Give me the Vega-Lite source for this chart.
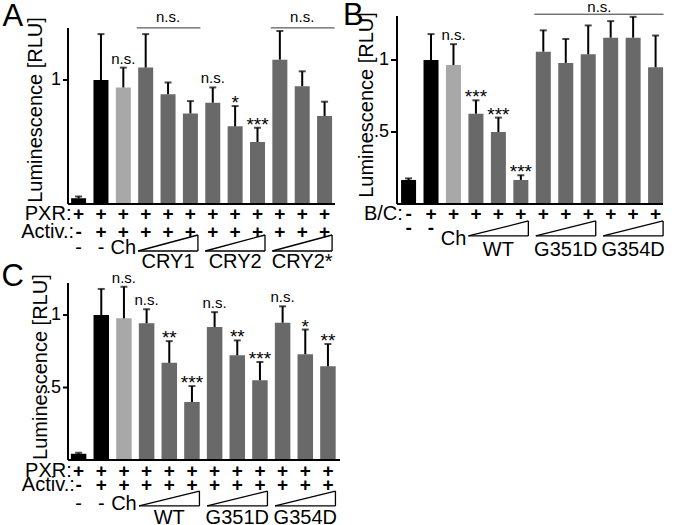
{
"$schema": "https://vega.github.io/schema/vega-lite/v6.json",
"padding": {"left": 1, "top": 0, "right": 0, "bottom": 0},
"config": {
  "view": {"stroke": null},
  "text": {"font": "Liberation Sans", "color": "#000"}
},
"datasets": {
  "a": [
    {"i":1,"v":0.046,"e":0.06,"c":"neg","s":"","r1":"+","r2":"-","r3":"-"},
    {"i":2,"v":1.0,"e":1.37,"c":"pos","s":"","r1":"+","r2":"+","r3":"-"},
    {"i":3,"v":0.94,"e":1.10,"c":"ch","s":"n.s.","r1":"+","r2":"+","r3":"Ch"},
    {"i":4,"v":1.10,"e":1.37,"c":"test","s":"","r1":"+","r2":"+","r3":""},
    {"i":5,"v":0.885,"e":0.98,"c":"test","s":"","r1":"+","r2":"+","r3":""},
    {"i":6,"v":0.73,"e":0.83,"c":"test","s":"","r1":"+","r2":"+","r3":""},
    {"i":7,"v":0.817,"e":0.94,"c":"test","s":"n.s.","r1":"+","r2":"+","r3":""},
    {"i":8,"v":0.626,"e":0.79,"c":"test","s":"*","r1":"+","r2":"+","r3":""},
    {"i":9,"v":0.50,"e":0.615,"c":"test","s":"***","r1":"+","r2":"+","r3":""},
    {"i":10,"v":1.164,"e":1.395,"c":"test","s":"","r1":"+","r2":"+","r3":""},
    {"i":11,"v":0.95,"e":1.07,"c":"test","s":"","r1":"+","r2":"+","r3":""},
    {"i":12,"v":0.71,"e":0.825,"c":"test","s":"","r1":"+","r2":"+","r3":""}
  ],
  "b": [
    {"i":1,"v":0.167,"e":0.178,"c":"neg","s":"","r1":"-","r2":"-","r3":""},
    {"i":2,"v":1.0,"e":1.18,"c":"pos","s":"","r1":"+","r2":"-","r3":""},
    {"i":3,"v":0.965,"e":1.11,"c":"ch","s":"n.s.","r1":"+","r2":"","r3":"Ch"},
    {"i":4,"v":0.627,"e":0.72,"c":"test","s":"***","r1":"+","r2":"","r3":""},
    {"i":5,"v":0.50,"e":0.60,"c":"test","s":"***","r1":"+","r2":"","r3":""},
    {"i":6,"v":0.167,"e":0.20,"c":"test","s":"***","r1":"+","r2":"","r3":""},
    {"i":7,"v":1.058,"e":1.206,"c":"test","s":"","r1":"+","r2":"","r3":""},
    {"i":8,"v":0.98,"e":1.146,"c":"test","s":"","r1":"+","r2":"","r3":""},
    {"i":9,"v":1.04,"e":1.24,"c":"test","s":"","r1":"+","r2":"","r3":""},
    {"i":10,"v":1.155,"e":1.27,"c":"test","s":"","r1":"+","r2":"","r3":""},
    {"i":11,"v":1.155,"e":1.30,"c":"test","s":"","r1":"+","r2":"","r3":""},
    {"i":12,"v":0.95,"e":1.17,"c":"test","s":"","r1":"+","r2":"","r3":""}
  ],
  "c": [
    {"i":1,"v":0.043,"e":0.05,"c":"neg","s":"","r1":"+","r2":"-","r3":"-"},
    {"i":2,"v":1.0,"e":1.18,"c":"pos","s":"","r1":"+","r2":"+","r3":"-"},
    {"i":3,"v":0.977,"e":1.195,"c":"ch","s":"n.s.","r1":"+","r2":"+","r3":"Ch"},
    {"i":4,"v":0.943,"e":1.04,"c":"test","s":"n.s.","r1":"+","r2":"+","r3":""},
    {"i":5,"v":0.67,"e":0.82,"c":"test","s":"**","r1":"+","r2":"+","r3":""},
    {"i":6,"v":0.40,"e":0.51,"c":"test","s":"***","r1":"+","r2":"+","r3":""},
    {"i":7,"v":0.917,"e":1.02,"c":"test","s":"n.s.","r1":"+","r2":"+","r3":""},
    {"i":8,"v":0.722,"e":0.825,"c":"test","s":"**","r1":"+","r2":"+","r3":""},
    {"i":9,"v":0.55,"e":0.676,"c":"test","s":"***","r1":"+","r2":"+","r3":""},
    {"i":10,"v":0.947,"e":1.06,"c":"test","s":"n.s.","r1":"+","r2":"+","r3":""},
    {"i":11,"v":0.73,"e":0.90,"c":"test","s":"*","r1":"+","r2":"+","r3":""},
    {"i":12,"v":0.646,"e":0.80,"c":"test","s":"**","r1":"+","r2":"+","r3":""}
  ],
  "ga": [{"g":"CRY1","from":4,"to":6,"mid":5},{"g":"CRY2","from":7,"to":9,"mid":8},{"g":"CRY2*","from":10,"to":12,"mid":11}],
  "gb": [{"g":"WT","from":4,"to":6,"mid":5},{"g":"G351D","from":7,"to":9,"mid":8},{"g":"G354D","from":10,"to":12,"mid":11}],
  "gc": [{"g":"WT","from":4,"to":6,"mid":5},{"g":"G351D","from":7,"to":9,"mid":8},{"g":"G354D","from":10,"to":12,"mid":11}],
  "bra": [{"from":4,"to":6,"mid":5,"lab":"n.s."},{"from":10,"to":12,"mid":11,"lab":"n.s."}],
  "brb": [{"from":7,"to":12,"mid":9.5,"lab":"n.s."}],
  "ta": [{"t":1,"lab":"1"}],
  "tb": [{"t":0.5,"lab":".5"},{"t":1,"lab":"1"}]
},
"concat": [
  {"width": 277, "height": 188,
   "layer": [
    {"data":{"name":"a"},"mark":{"type":"bar","width":15},
     "encoding":{
      "x":{"field":"i","type":"quantitative","scale":{"domain":[0.526,12.466],"nice":false,"zero":false},"axis":null},
      "y":{"field":"v","type":"quantitative","scale":{"domain":[0,1.516],"nice":false},"axis":null},
      "color":{"field":"c","type":"nominal","scale":{"domain":["neg","pos","ch","test"],"range":["#000000","#000000","#a8a8a8","#696969"]},"legend":null}}},
    {"data":{"name":"a"},"mark":{"type":"rule","strokeWidth":2,"color":"#000"},
     "encoding":{"x":{"field":"i","type":"quantitative","axis":null},"y":{"field":"v","type":"quantitative","axis":null},"y2":{"field":"e"}}},
    {"data":{"name":"a"},"mark":{"type":"tick","orient":"horizontal","size":7,"thickness":2,"color":"#000"},
     "encoding":{"x":{"field":"i","type":"quantitative","axis":null},"y":{"field":"e","type":"quantitative","axis":null}}},
    {"data":{"name":"a"},"transform":[{"filter":"datum.s == 'n.s.'"}],"mark":{"type":"text","fontSize":15,"baseline":"alphabetic","dy":-4},
     "encoding":{"x":{"field":"i","type":"quantitative","axis":null},"y":{"field":"e","type":"quantitative","axis":null},"text":{"field":"s"}}},
    {"data":{"name":"a"},"transform":[{"filter":"datum.s && datum.s != 'n.s.'"}],"mark":{"type":"text","fontSize":19,"baseline":"alphabetic","dy":3},
     "encoding":{"x":{"field":"i","type":"quantitative","axis":null},"y":{"field":"e","type":"quantitative","axis":null},"text":{"field":"s"}}},
    {"data":{"values":[{}]},"mark":{"type":"rule","strokeWidth":2,"color":"#000"},
     "encoding":{"x":{"datum":0.526,"axis":null},"y":{"datum":0,"axis":null},"y2":{"datum":1.42}}},
    {"data":{"values":[{}]},"mark":{"type":"rule","strokeWidth":2,"color":"#000"},
     "encoding":{"x":{"datum":0.526,"axis":null},"x2":{"datum":12.466},"y":{"datum":0,"axis":null}}},
    {"data":{"name":"ta"},"mark":{"type":"rule","strokeWidth":2,"color":"#000","xOffset":-5},
     "encoding":{"x":{"datum":0.526,"axis":null},"x2":{"datum":0.526},"y":{"field":"t","type":"quantitative","axis":null}}},
    {"data":{"name":"ta"},"mark":{"type":"text","fontSize":18,"align":"right","baseline":"middle","dx":-7},
     "encoding":{"x":{"datum":0.526,"axis":null},"y":{"field":"t","type":"quantitative","axis":null},"text":{"field":"lab"}}},
    {"data":{"values":[{}]},"mark":{"type":"text","fontSize":20,"angle":270,"align":"center","baseline":"alphabetic"},
     "encoding":{"x":{"datum":-0.62,"axis":null},"y":{"datum":0.758,"axis":null},"text":{"value":"Luminescence [RLU]"}}},
    {"data":{"name":"a"},"mark":{"type":"text","fontSize":19,"fontWeight":"bold","baseline":"alphabetic"},
     "encoding":{"x":{"field":"i","type":"quantitative","axis":null},"y":{"datum":-0.129,"axis":null},"text":{"field":"r1"}}},
    {"data":{"name":"a"},"mark":{"type":"text","fontSize":19,"fontWeight":"bold","baseline":"alphabetic"},
     "encoding":{"x":{"field":"i","type":"quantitative","axis":null},"y":{"datum":-0.274,"axis":null},"text":{"field":"r2"}}},
    {"data":{"name":"a"},"mark":{"type":"text","fontSize":20,"baseline":"alphabetic"},
     "encoding":{"x":{"field":"i","type":"quantitative","axis":null},"y":{"datum":-0.403,"axis":null},"text":{"field":"r3"}}},
    {"data":{"values":[{}]},"mark":{"type":"text","fontSize":20,"baseline":"alphabetic","align":"right"},
     "encoding":{"x":{"datum":0.68,"axis":null},"y":{"datum":-0.129,"axis":null},"text":{"value":"PXR:"}}},
    {"data":{"values":[{}]},"mark":{"type":"text","fontSize":20,"baseline":"alphabetic","align":"right"},
     "encoding":{"x":{"datum":0.80,"axis":null},"y":{"datum":-0.274,"axis":null},"text":{"value":"Activ.:"}}},
    {"data":{"name":"ga"},"mark":{"type":"rule","strokeWidth":1.3,"color":"#000","xOffset":-7.5,"x2Offset":7.5},
     "encoding":{"x":{"field":"from","type":"quantitative","axis":null},"x2":{"field":"to"},"y":{"datum":-0.379,"axis":null}}},
    {"data":{"name":"ga"},"mark":{"type":"rule","strokeWidth":1.3,"color":"#000","xOffset":7.5},
     "encoding":{"x":{"field":"to","type":"quantitative","axis":null},"y":{"datum":-0.379,"axis":null},"y2":{"datum":-0.25}}},
    {"data":{"name":"ga"},"mark":{"type":"rule","strokeWidth":1.3,"color":"#000","xOffset":-7.5,"x2Offset":7.5},
     "encoding":{"x":{"field":"from","type":"quantitative","axis":null},"x2":{"field":"to"},"y":{"datum":-0.379,"axis":null},"y2":{"datum":-0.25}}},
    {"data":{"name":"ga"},"mark":{"type":"text","fontSize":20,"baseline":"alphabetic"},
     "encoding":{"x":{"field":"mid","type":"quantitative","axis":null},"y":{"datum":-0.516,"axis":null},"text":{"field":"g"}}},
    {"data":{"name":"bra"},"mark":{"type":"rule","strokeWidth":1,"color":"#333","xOffset":-9,"x2Offset":10},
     "encoding":{"x":{"field":"from","type":"quantitative","axis":null},"x2":{"field":"to"},"y":{"datum":1.42,"axis":null}}},
    {"data":{"name":"bra"},"mark":{"type":"text","fontSize":15,"baseline":"alphabetic"},
     "encoding":{"x":{"field":"mid","type":"quantitative","axis":null},"y":{"datum":1.464,"axis":null},"text":{"field":"lab"}}},
    {"data":{"values":[{}]},"mark":{"type":"text","fontSize":31,"baseline":"alphabetic","align":"left"},
     "encoding":{"x":{"datum":-2.405,"axis":null},"y":{"datum":1.435,"axis":null},"text":{"value":"A"}}}
   ]},
  {"width": 276, "height": 188,
   "layer": [
    {"data":{"name":"b"},"mark":{"type":"bar","width":15},
     "encoding":{
      "x":{"field":"i","type":"quantitative","scale":{"domain":[0.485,12.33],"nice":false,"zero":false},"axis":null},
      "y":{"field":"v","type":"quantitative","scale":{"domain":[0,1.3056],"nice":false},"axis":null},
      "color":{"field":"c","type":"nominal","scale":{"domain":["neg","pos","ch","test"],"range":["#000000","#000000","#a8a8a8","#696969"]},"legend":null}}},
    {"data":{"name":"b"},"mark":{"type":"rule","strokeWidth":2,"color":"#000"},
     "encoding":{"x":{"field":"i","type":"quantitative","axis":null},"y":{"field":"v","type":"quantitative","axis":null},"y2":{"field":"e"}}},
    {"data":{"name":"b"},"mark":{"type":"tick","orient":"horizontal","size":7,"thickness":2,"color":"#000"},
     "encoding":{"x":{"field":"i","type":"quantitative","axis":null},"y":{"field":"e","type":"quantitative","axis":null}}},
    {"data":{"name":"b"},"transform":[{"filter":"datum.s == 'n.s.'"}],"mark":{"type":"text","fontSize":15,"baseline":"alphabetic","dy":-4},
     "encoding":{"x":{"field":"i","type":"quantitative","axis":null},"y":{"field":"e","type":"quantitative","axis":null},"text":{"field":"s"}}},
    {"data":{"name":"b"},"transform":[{"filter":"datum.s && datum.s != 'n.s.'"}],"mark":{"type":"text","fontSize":19,"baseline":"alphabetic","dy":3},
     "encoding":{"x":{"field":"i","type":"quantitative","axis":null},"y":{"field":"e","type":"quantitative","axis":null},"text":{"field":"s"}}},
    {"data":{"values":[{}]},"mark":{"type":"rule","strokeWidth":2,"color":"#000"},
     "encoding":{"x":{"datum":0.485,"axis":null},"y":{"datum":0,"axis":null},"y2":{"datum":1.3056}}},
    {"data":{"values":[{}]},"mark":{"type":"rule","strokeWidth":2,"color":"#000"},
     "encoding":{"x":{"datum":0.485,"axis":null},"x2":{"datum":12.33},"y":{"datum":0,"axis":null}}},
    {"data":{"name":"tb"},"mark":{"type":"rule","strokeWidth":2,"color":"#000","xOffset":-6},
     "encoding":{"x":{"datum":0.485,"axis":null},"x2":{"datum":0.485},"y":{"field":"t","type":"quantitative","axis":null}}},
    {"data":{"name":"tb"},"mark":{"type":"text","fontSize":18,"align":"right","baseline":"middle","dx":-8},
     "encoding":{"x":{"datum":0.485,"axis":null},"y":{"field":"t","type":"quantitative","axis":null},"text":{"field":"lab"}}},
    {"data":{"values":[{}]},"mark":{"type":"text","fontSize":20,"angle":270,"align":"center","baseline":"alphabetic"},
     "encoding":{"x":{"datum":-0.588,"axis":null},"y":{"datum":0.6875,"axis":null},"text":{"value":"Luminescence [RLU]"}}},
    {"data":{"name":"b"},"mark":{"type":"text","fontSize":19,"fontWeight":"bold","baseline":"alphabetic"},
     "encoding":{"x":{"field":"i","type":"quantitative","axis":null},"y":{"datum":-0.110,"axis":null},"text":{"field":"r1"}}},
    {"data":{"name":"b"},"mark":{"type":"text","fontSize":19,"fontWeight":"bold","baseline":"alphabetic"},
     "encoding":{"x":{"field":"i","type":"quantitative","axis":null},"y":{"datum":-0.21,"axis":null},"text":{"field":"r2"}}},
    {"data":{"name":"b"},"mark":{"type":"text","fontSize":20,"baseline":"alphabetic"},
     "encoding":{"x":{"field":"i","type":"quantitative","axis":null},"y":{"datum":-0.284,"axis":null},"text":{"field":"r3"}}},
    {"data":{"values":[{}]},"mark":{"type":"text","fontSize":20,"baseline":"alphabetic","align":"right"},
     "encoding":{"x":{"datum":0.743,"axis":null},"y":{"datum":-0.110,"axis":null},"text":{"value":"B/C:"}}},
    {"data":{"name":"gb"},"mark":{"type":"rule","strokeWidth":1.3,"color":"#000","xOffset":-7.5,"x2Offset":7.5},
     "encoding":{"x":{"field":"from","type":"quantitative","axis":null},"x2":{"field":"to"},"y":{"datum":-0.222,"axis":null}}},
    {"data":{"name":"gb"},"mark":{"type":"rule","strokeWidth":1.3,"color":"#000","xOffset":7.5},
     "encoding":{"x":{"field":"to","type":"quantitative","axis":null},"y":{"datum":-0.222,"axis":null},"y2":{"datum":-0.118}}},
    {"data":{"name":"gb"},"mark":{"type":"rule","strokeWidth":1.3,"color":"#000","xOffset":-7.5,"x2Offset":7.5},
     "encoding":{"x":{"field":"from","type":"quantitative","axis":null},"x2":{"field":"to"},"y":{"datum":-0.222,"axis":null},"y2":{"datum":-0.118}}},
    {"data":{"name":"gb"},"mark":{"type":"text","fontSize":20,"baseline":"alphabetic"},
     "encoding":{"x":{"field":"mid","type":"quantitative","axis":null},"y":{"datum":-0.361,"axis":null},"text":{"field":"g"}}},
    {"data":{"name":"brb"},"mark":{"type":"rule","strokeWidth":1,"color":"#333","xOffset":-9,"x2Offset":8},
     "encoding":{"x":{"field":"from","type":"quantitative","axis":null},"x2":{"field":"to"},"y":{"datum":1.318,"axis":null}}},
    {"data":{"name":"brb"},"mark":{"type":"text","fontSize":15,"baseline":"alphabetic"},
     "encoding":{"x":{"field":"mid","type":"quantitative","axis":null},"y":{"datum":1.33,"axis":null},"text":{"field":"lab"}}},
    {"data":{"values":[{}]},"mark":{"type":"text","fontSize":31,"baseline":"alphabetic","align":"left"},
     "encoding":{"x":{"datum":-1.918,"axis":null},"y":{"datum":1.243,"axis":null},"text":{"value":"B"}}}
   ]},
  {"width": 282, "height": 177,
   "layer": [
    {"data":{"name":"c"},"mark":{"type":"bar","width":15.5},
     "encoding":{
      "x":{"field":"i","type":"quantitative","scale":{"domain":[0.532,12.532],"nice":false,"zero":false},"axis":null},
      "y":{"field":"v","type":"quantitative","scale":{"domain":[0,1.221],"nice":false},"axis":null},
      "color":{"field":"c","type":"nominal","scale":{"domain":["neg","pos","ch","test"],"range":["#000000","#000000","#a8a8a8","#696969"]},"legend":null}}},
    {"data":{"name":"c"},"mark":{"type":"rule","strokeWidth":2,"color":"#000"},
     "encoding":{"x":{"field":"i","type":"quantitative","axis":null},"y":{"field":"v","type":"quantitative","axis":null},"y2":{"field":"e"}}},
    {"data":{"name":"c"},"mark":{"type":"tick","orient":"horizontal","size":7,"thickness":2,"color":"#000"},
     "encoding":{"x":{"field":"i","type":"quantitative","axis":null},"y":{"field":"e","type":"quantitative","axis":null}}},
    {"data":{"name":"c"},"transform":[{"filter":"datum.s == 'n.s.'"}],"mark":{"type":"text","fontSize":15,"baseline":"alphabetic","dy":-4},
     "encoding":{"x":{"field":"i","type":"quantitative","axis":null},"y":{"field":"e","type":"quantitative","axis":null},"text":{"field":"s"}}},
    {"data":{"name":"c"},"transform":[{"filter":"datum.s && datum.s != 'n.s.'"}],"mark":{"type":"text","fontSize":19,"baseline":"alphabetic","dy":3},
     "encoding":{"x":{"field":"i","type":"quantitative","axis":null},"y":{"field":"e","type":"quantitative","axis":null},"text":{"field":"s"}}},
    {"data":{"values":[{}]},"mark":{"type":"rule","strokeWidth":2,"color":"#000"},
     "encoding":{"x":{"datum":0.532,"axis":null},"y":{"datum":0,"axis":null},"y2":{"datum":1.221}}},
    {"data":{"values":[{}]},"mark":{"type":"rule","strokeWidth":2,"color":"#000"},
     "encoding":{"x":{"datum":0.532,"axis":null},"x2":{"datum":12.532},"y":{"datum":0,"axis":null}}},
    {"data":{"name":"tb"},"mark":{"type":"rule","strokeWidth":2,"color":"#000","xOffset":-5},
     "encoding":{"x":{"datum":0.532,"axis":null},"x2":{"datum":0.532},"y":{"field":"t","type":"quantitative","axis":null}}},
    {"data":{"name":"tb"},"mark":{"type":"text","fontSize":18,"align":"right","baseline":"middle","dx":-7},
     "encoding":{"x":{"datum":0.532,"axis":null},"y":{"field":"t","type":"quantitative","axis":null},"text":{"field":"lab"}}},
    {"data":{"values":[{}]},"mark":{"type":"text","fontSize":20,"angle":270,"align":"center","baseline":"alphabetic"},
     "encoding":{"x":{"datum":-0.404,"axis":null},"y":{"datum":0.641,"axis":null},"text":{"value":"Luminescence [RLU]"}}},
    {"data":{"name":"c"},"mark":{"type":"text","fontSize":19,"fontWeight":"bold","baseline":"alphabetic"},
     "encoding":{"x":{"field":"i","type":"quantitative","axis":null},"y":{"datum":-0.114,"axis":null},"text":{"field":"r1"}}},
    {"data":{"name":"c"},"mark":{"type":"text","fontSize":19,"fontWeight":"bold","baseline":"alphabetic"},
     "encoding":{"x":{"field":"i","type":"quantitative","axis":null},"y":{"datum":-0.214,"axis":null},"text":{"field":"r2"}}},
    {"data":{"name":"c"},"mark":{"type":"text","fontSize":20,"baseline":"alphabetic"},
     "encoding":{"x":{"field":"i","type":"quantitative","axis":null},"y":{"datum":-0.345,"axis":null},"text":{"field":"r3"}}},
    {"data":{"values":[{}]},"mark":{"type":"text","fontSize":20,"baseline":"alphabetic","align":"right"},
     "encoding":{"x":{"datum":0.70,"axis":null},"y":{"datum":-0.114,"axis":null},"text":{"value":"PXR:"}}},
    {"data":{"values":[{}]},"mark":{"type":"text","fontSize":20,"baseline":"alphabetic","align":"right"},
     "encoding":{"x":{"datum":0.83,"axis":null},"y":{"datum":-0.214,"axis":null},"text":{"value":"Activ.:"}}},
    {"data":{"name":"gc"},"mark":{"type":"rule","strokeWidth":1.3,"color":"#000","xOffset":-7.5,"x2Offset":7.5},
     "encoding":{"x":{"field":"from","type":"quantitative","axis":null},"x2":{"field":"to"},"y":{"datum":-0.317,"axis":null}}},
    {"data":{"name":"gc"},"mark":{"type":"rule","strokeWidth":1.3,"color":"#000","xOffset":7.5},
     "encoding":{"x":{"field":"to","type":"quantitative","axis":null},"y":{"datum":-0.317,"axis":null},"y2":{"datum":-0.214}}},
    {"data":{"name":"gc"},"mark":{"type":"rule","strokeWidth":1.3,"color":"#000","xOffset":-7.5,"x2Offset":7.5},
     "encoding":{"x":{"field":"from","type":"quantitative","axis":null},"x2":{"field":"to"},"y":{"datum":-0.317,"axis":null},"y2":{"datum":-0.214}}},
    {"data":{"name":"gc"},"mark":{"type":"text","fontSize":20,"baseline":"alphabetic"},
     "encoding":{"x":{"field":"mid","type":"quantitative","axis":null},"y":{"datum":-0.443,"axis":null},"text":{"field":"g"}}},
    {"data":{"values":[{}]},"mark":{"type":"text","fontSize":31,"baseline":"alphabetic","align":"left"},
     "encoding":{"x":{"datum":-2.404,"axis":null},"y":{"datum":1.2,"axis":null},"text":{"value":"C"}}}
  ]}
],
"columns": 2,
"spacing": {"row": 79, "column": 47},
"bounds": "flush",
"align": "all"
}
